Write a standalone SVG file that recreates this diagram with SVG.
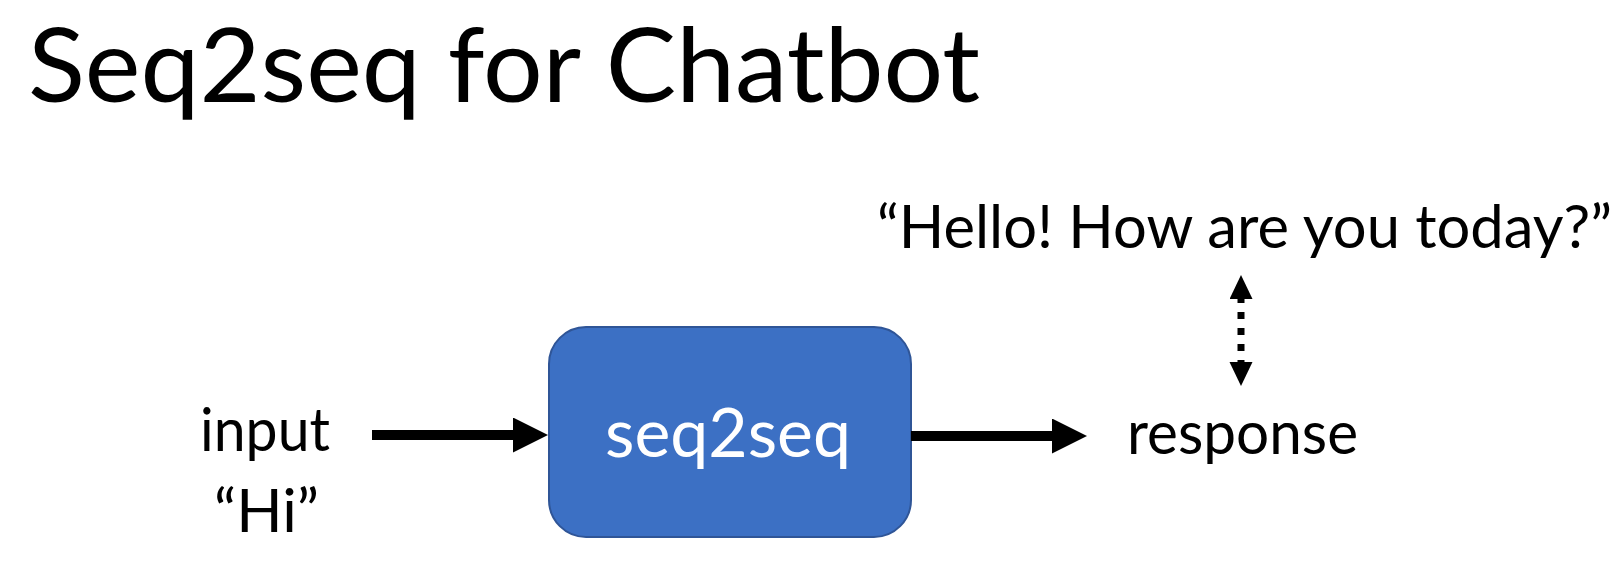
<svg xmlns="http://www.w3.org/2000/svg" width="1618" height="574" viewBox="0 0 1618 574">
  <style>
    .t { font-family: Lato, "Open Sans", "Liberation Sans", sans-serif; fill: #000; }
    .lbl { font-size: 60px; }
    .title { font-size: 102px; font-weight: 400; }
    .box { fill: #3C70C4; stroke: #2F5597; stroke-width: 2; }
    .boxtxt { font-family: Lato, "Open Sans", "Liberation Sans", sans-serif; font-size: 67px; fill: #fff; }
    .arrow { stroke: #000; stroke-width: 10; fill: none; }
    .dotted { stroke: #000; stroke-width: 7; fill: none; stroke-dasharray: 7 9; stroke-dashoffset: 3; }
  </style>
  <defs>
    <marker id="head" markerUnits="userSpaceOnUse" markerWidth="36" markerHeight="36" refX="0" refY="17.5" orient="auto">
      <path d="M0,0 L35,17.5 L0,35 Z" fill="#000"/>
    </marker>
    <marker id="headSmall" markerUnits="userSpaceOnUse" markerWidth="25" markerHeight="24" refX="0" refY="11.5" orient="auto-start-reverse">
      <path d="M0,0 L24,11.5 L0,23 Z" fill="#000"/>
    </marker>
  </defs>

  <rect width="1618" height="574" fill="#fff"/>

  <g id="title">
    <text class="t title" x="28" y="102" textLength="952" lengthAdjust="spacingAndGlyphs">Seq2seq for Chatbot</text>
  </g>

  <g id="input">
    <text class="t lbl" x="200" y="451" textLength="130" lengthAdjust="spacingAndGlyphs">input</text>
    <text class="t lbl" x="214" y="532" textLength="105" lengthAdjust="spacingAndGlyphs">“Hi”</text>
  </g>

  <g id="seq2seq">
    <rect class="box" x="549" y="327" width="362" height="210" rx="37" ry="37"/>
    <text class="boxtxt" x="605" y="457" textLength="246" lengthAdjust="spacingAndGlyphs">seq2seq</text>
  </g>

  <g id="response">
    <text class="t lbl" x="1127" y="454" textLength="231" lengthAdjust="spacingAndGlyphs">response</text>
  </g>

  <g id="hello">
    <text class="t lbl" x="877" y="248" textLength="735" lengthAdjust="spacingAndGlyphs">“Hello! How are you today?”</text>
  </g>

  <g id="connectors">
    <line class="arrow" x1="372" y1="435" x2="513" y2="435" marker-end="url(#head)"/>
    <line class="arrow" x1="911" y1="436" x2="1052" y2="436" marker-end="url(#head)"/>
    <line class="dotted" x1="1241" y1="299" x2="1241" y2="362" marker-start="url(#headSmall)" marker-end="url(#headSmall)"/>
  </g>
</svg>
